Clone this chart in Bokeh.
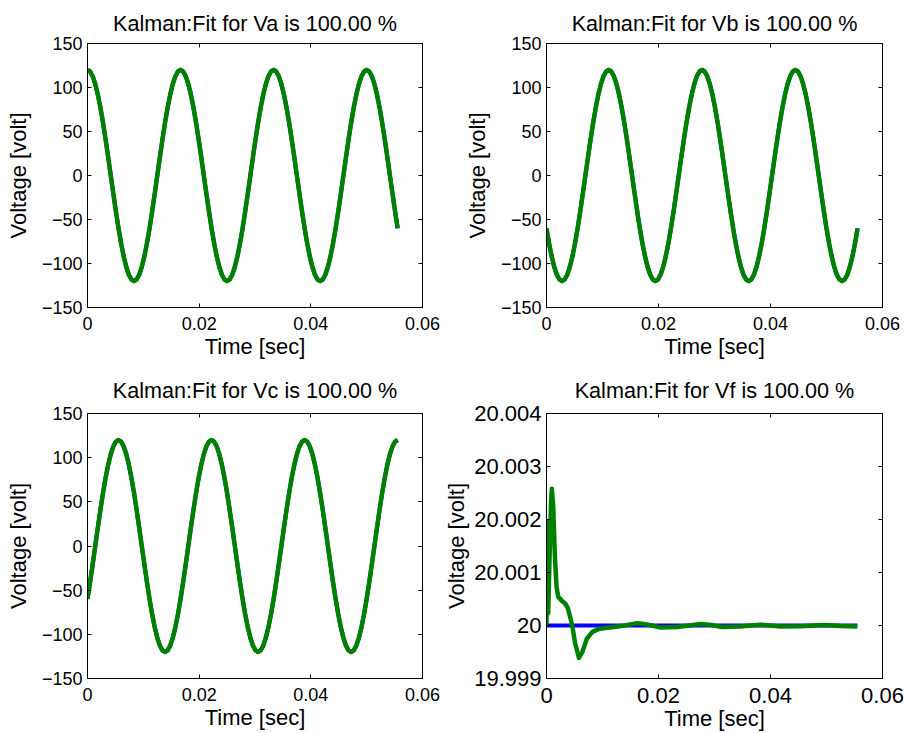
from bokeh.plotting import figure
from bokeh.models import Range1d, FixedTicker, LinearAxis
from bokeh.layouts import gridplot
from bokeh.embed import file_html
from bokeh.resources import INLINE

# ---------------- data ----------------
time_s = [0.0, 0.000463, 0.000926, 0.001389, 0.001852, 0.002315, 0.002778, 0.003241, 0.003704, 0.004167, 0.004630, 0.005093,
          0.005556, 0.006019, 0.006481, 0.006944, 0.007407, 0.007870, 0.008333, 0.008796, 0.009259, 0.009722, 0.010185, 0.010648,
          0.011111, 0.011574, 0.012037, 0.012500, 0.012963, 0.013426, 0.013889, 0.014352, 0.014815, 0.015278, 0.015741, 0.016204,
          0.016667, 0.017130, 0.017593, 0.018056, 0.018519, 0.018981, 0.019444, 0.019907, 0.020370, 0.020833, 0.021296, 0.021759,
          0.022222, 0.022685, 0.023148, 0.023611, 0.024074, 0.024537, 0.025000, 0.025463, 0.025926, 0.026389, 0.026852, 0.027315,
          0.027778, 0.028241, 0.028704, 0.029167, 0.029630, 0.030093, 0.030556, 0.031019, 0.031481, 0.031944, 0.032407, 0.032870,
          0.033333, 0.033796, 0.034259, 0.034722, 0.035185, 0.035648, 0.036111, 0.036574, 0.037037, 0.037500, 0.037963, 0.038426,
          0.038889, 0.039352, 0.039815, 0.040278, 0.040741, 0.041204, 0.041667, 0.042130, 0.042593, 0.043056, 0.043519, 0.043981,
          0.044444, 0.044907, 0.045370, 0.045833, 0.046296, 0.046759, 0.047222, 0.047685, 0.048148, 0.048611, 0.049074, 0.049537,
          0.050000, 0.050463, 0.050926, 0.051389, 0.051852, 0.052315, 0.052778, 0.053241, 0.053704, 0.054167, 0.054630, 0.055093,
          0.055556]

va_volt = [120.0, 118.2, 112.8, 103.9, 91.9, 77.1, 60.0, 41.0, 20.8, 0.0, -20.8, -41.0,
           -60.0, -77.1, -91.9, -103.9, -112.8, -118.2, -120.0, -118.2, -112.8, -103.9, -91.9, -77.1,
           -60.0, -41.0, -20.8, 0.0, 20.8, 41.0, 60.0, 77.1, 91.9, 103.9, 112.8, 118.2,
           120.0, 118.2, 112.8, 103.9, 91.9, 77.1, 60.0, 41.0, 20.8, 0.0, -20.8, -41.0,
           -60.0, -77.1, -91.9, -103.9, -112.8, -118.2, -120.0, -118.2, -112.8, -103.9, -91.9, -77.1,
           -60.0, -41.0, -20.8, 0.0, 20.8, 41.0, 60.0, 77.1, 91.9, 103.9, 112.8, 118.2,
           120.0, 118.2, 112.8, 103.9, 91.9, 77.1, 60.0, 41.0, 20.8, 0.0, -20.8, -41.0,
           -60.0, -77.1, -91.9, -103.9, -112.8, -118.2, -120.0, -118.2, -112.8, -103.9, -91.9, -77.1,
           -60.0, -41.0, -20.8, 0.0, 20.8, 41.0, 60.0, 77.1, 91.9, 103.9, 112.8, 118.2,
           120.0, 118.2, 112.8, 103.9, 91.9, 77.1, 60.0, 41.0, 20.8, 0.0, -20.8, -41.0,
           -60.0]

vb_volt = [-60.0, -77.1, -91.9, -103.9, -112.8, -118.2, -120.0, -118.2, -112.8, -103.9, -91.9, -77.1,
           -60.0, -41.0, -20.8, 0.0, 20.8, 41.0, 60.0, 77.1, 91.9, 103.9, 112.8, 118.2,
           120.0, 118.2, 112.8, 103.9, 91.9, 77.1, 60.0, 41.0, 20.8, 0.0, -20.8, -41.0,
           -60.0, -77.1, -91.9, -103.9, -112.8, -118.2, -120.0, -118.2, -112.8, -103.9, -91.9, -77.1,
           -60.0, -41.0, -20.8, 0.0, 20.8, 41.0, 60.0, 77.1, 91.9, 103.9, 112.8, 118.2,
           120.0, 118.2, 112.8, 103.9, 91.9, 77.1, 60.0, 41.0, 20.8, 0.0, -20.8, -41.0,
           -60.0, -77.1, -91.9, -103.9, -112.8, -118.2, -120.0, -118.2, -112.8, -103.9, -91.9, -77.1,
           -60.0, -41.0, -20.8, 0.0, 20.8, 41.0, 60.0, 77.1, 91.9, 103.9, 112.8, 118.2,
           120.0, 118.2, 112.8, 103.9, 91.9, 77.1, 60.0, 41.0, 20.8, 0.0, -20.8, -41.0,
           -60.0, -77.1, -91.9, -103.9, -112.8, -118.2, -120.0, -118.2, -112.8, -103.9, -91.9, -77.1,
           -60.0]

vc_volt = [-60.0, -41.0, -20.8, 0.0, 20.8, 41.0, 60.0, 77.1, 91.9, 103.9, 112.8, 118.2,
           120.0, 118.2, 112.8, 103.9, 91.9, 77.1, 60.0, 41.0, 20.8, 0.0, -20.8, -41.0,
           -60.0, -77.1, -91.9, -103.9, -112.8, -118.2, -120.0, -118.2, -112.8, -103.9, -91.9, -77.1,
           -60.0, -41.0, -20.8, 0.0, 20.8, 41.0, 60.0, 77.1, 91.9, 103.9, 112.8, 118.2,
           120.0, 118.2, 112.8, 103.9, 91.9, 77.1, 60.0, 41.0, 20.8, 0.0, -20.8, -41.0,
           -60.0, -77.1, -91.9, -103.9, -112.8, -118.2, -120.0, -118.2, -112.8, -103.9, -91.9, -77.1,
           -60.0, -41.0, -20.8, 0.0, 20.8, 41.0, 60.0, 77.1, 91.9, 103.9, 112.8, 118.2,
           120.0, 118.2, 112.8, 103.9, 91.9, 77.1, 60.0, 41.0, 20.8, 0.0, -20.8, -41.0,
           -60.0, -77.1, -91.9, -103.9, -112.8, -118.2, -120.0, -118.2, -112.8, -103.9, -91.9, -77.1,
           -60.0, -41.0, -20.8, 0.0, 20.8, 41.0, 60.0, 77.1, 91.9, 103.9, 112.8, 118.2,
           120.0]

vf_meas_time_s = [0.0, 0.0555]
vf_meas_volt = [20.0, 20.0]

vf_est_time_s = [0.0, 0.00012, 0.0003, 0.0006, 0.0008, 0.00095, 0.0012, 0.0015, 0.0018, 0.0021,
                 0.0028, 0.0033, 0.0038, 0.0042, 0.0046, 0.0051, 0.0058, 0.0064, 0.0072, 0.0082,
                 0.0095, 0.0120, 0.0140, 0.0162, 0.0180, 0.0204, 0.0233, 0.0255, 0.0275, 0.0295,
                 0.0313, 0.0345, 0.0382, 0.0418, 0.0455, 0.0495, 0.0525, 0.0555]
vf_est_volt = [20.00000, 20.00197, 20.00023, 20.00150, 20.00230, 20.00258, 20.00225, 20.00130, 20.00073, 20.00054,
               20.00046, 20.00042, 20.00033, 20.00017, 20.00000, 19.99967, 19.99939, 19.99950, 19.99975, 19.99988,
               19.99994, 19.99997, 20.00000, 20.000045, 20.00002, 19.99996, 19.99997, 20.00000, 20.00003, 20.00001,
               19.99997, 19.99998, 20.000015, 19.99998, 19.999985, 20.00001, 19.99999, 19.99998]

titles = ["Kalman:Fit for Va is 100.00 %", "Kalman:Fit for Vb is 100.00 %",
          "Kalman:Fit for Vc is 100.00 %", "Kalman:Fit for Vf is 100.00 %"]
x_label = "Time [sec]"
y_label = "Voltage [volt]"
x_ticks = [0.0, 0.02, 0.04, 0.06]
x_tick_labels = ["0", "0.02", "0.04", "0.06"]
v_ticks = [-150, -100, -50, 0, 50, 100, 150]
v_tick_labels = ["\u2212150", "\u2212100", "\u221250", "0", "50", "100", "150"]
vf_ticks = [19.999, 20.0, 20.001, 20.002, 20.003, 20.004]
vf_tick_labels = ["19.999", "20", "20.001", "20.002", "20.003", "20.004"]

FONT = "Liberation Sans"
BLUE = "#0000ff"
GREEN = "#008000"


def style_axis(ax, ticks, labels, font_px, standoff, hidden=False):
    ax.ticker = FixedTicker(ticks=ticks)
    ax.major_tick_in = 4
    ax.major_tick_out = 0
    ax.minor_tick_in = 0
    ax.minor_tick_out = 0
    ax.axis_line_color = "black"
    ax.major_tick_line_color = "black"
    ax.major_label_text_font = FONT
    if hidden:
        ax.major_label_text_color = None
        ax.major_label_text_alpha = 0
        ax.major_label_text_font_size = "1px"
        ax.major_label_standoff = 0
        ax.axis_label_standoff = 0
    else:
        ax.major_label_overrides = {t: l for t, l in zip(ticks, labels)}
        ax.major_label_text_color = "black"
        ax.major_label_text_font_size = f"{font_px}px"
        ax.major_label_standoff = standoff


def make_panel(title, xs, meas, est_x, est, yticks, ylabels, yr, tick_px,
               width, height, bl, br, bt, bb, title_standoff, xlab_standoff, ylab_standoff):
    p = figure(width=width, height=height, x_range=Range1d(0, 0.06), y_range=Range1d(*yr),
               output_backend="svg", toolbar_location=None,
               min_border_left=bl, min_border_right=br, min_border_top=bt, min_border_bottom=bb)
    p.grid.visible = False
    p.outline_line_color = "black"
    p.outline_line_width = 1
    p.background_fill_color = "white"
    p.border_fill_color = "white"

    p.title.text = title
    p.title.text_font = FONT
    p.title.text_font_size = "21.6px"
    p.title.text_font_style = "normal"
    p.title.text_color = "black"
    p.title.align = "center"
    p.title.standoff = title_standoff

    xa = p.xaxis[0]
    ya = p.yaxis[0]
    style_axis(xa, x_ticks, x_tick_labels, tick_px, 9)
    style_axis(ya, yticks, ylabels, tick_px, 5)
    xa.axis_label = x_label
    ya.axis_label = y_label
    for ax, s in ((xa, xlab_standoff), (ya, ylab_standoff)):
        ax.axis_label_text_font = FONT
        ax.axis_label_text_font_size = "22px"
        ax.axis_label_text_font_style = "normal"
        ax.axis_label_text_color = "black"
        ax.axis_label_standoff = s

    top = LinearAxis()
    style_axis(top, x_ticks, x_tick_labels, tick_px, 0, hidden=True)
    right = LinearAxis()
    style_axis(right, yticks, ylabels, tick_px, 0, hidden=True)
    p.add_layout(top, "above")
    p.add_layout(right, "right")

    p.line(xs, meas, line_color=BLUE, line_width=4)
    p.line(est_x, est, line_color=GREEN, line_width=4.5, line_join="round")
    return p


LW, RW = 441, 464
TH, BH = 363, 370

p1 = make_panel(titles[0], time_s, va_volt, time_s, va_volt, v_ticks, v_tick_labels, (-150, 150), 18,
                LW, TH, 87, 19, 42, 56, 16, 1, 8)
p2 = make_panel(titles[1], time_s, vb_volt, time_s, vb_volt, v_ticks, v_tick_labels, (-150, 150), 18,
                RW, TH, 105, 23, 42, 56, 16, 1, 8)
p3 = make_panel(titles[2], time_s, vc_volt, time_s, vc_volt, v_ticks, v_tick_labels, (-150, 150), 18,
                LW, BH, 87, 19, 50, 55, 22, 1, 8)
p4 = make_panel(titles[3], vf_meas_time_s, vf_meas_volt, vf_est_time_s, vf_est_volt,
                vf_ticks, vf_tick_labels, (19.999, 20.004), 22,
                RW, BH, 105, 23, 50, 55, 22, 0, 2)

grid = gridplot([[p1, p2], [p3, p4]], toolbar_location=None)

with open("out.html", "w") as f:
    f.write(file_html(grid, INLINE))
